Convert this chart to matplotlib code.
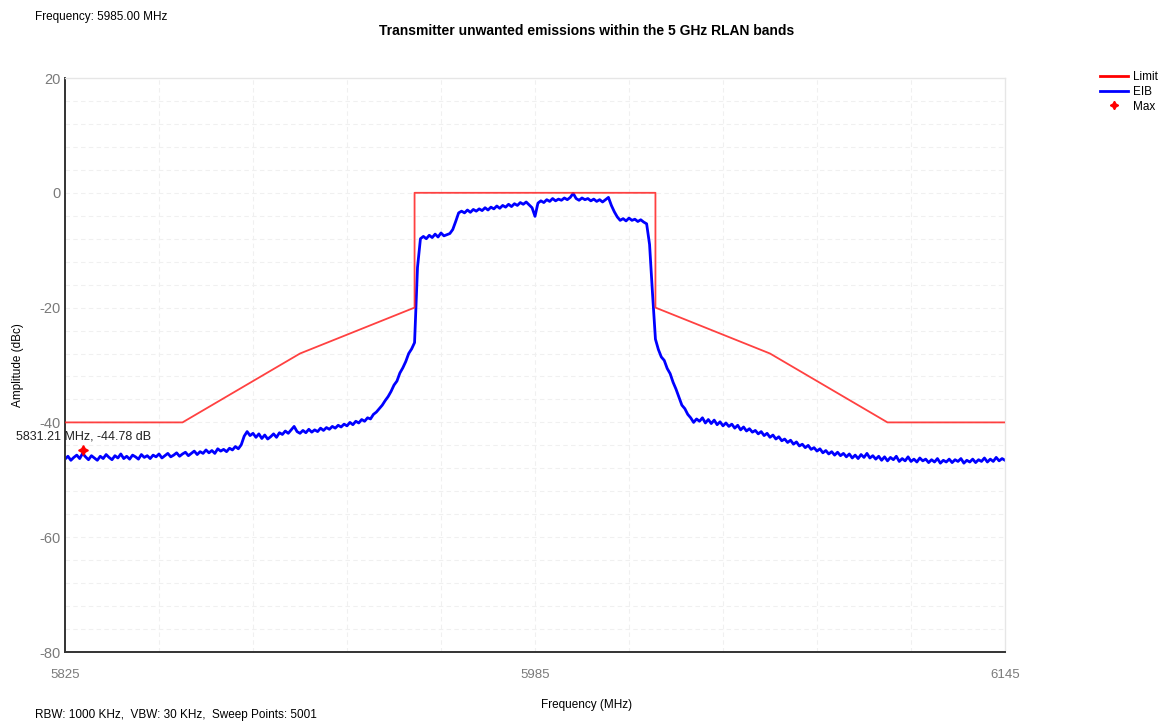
import numpy as np
import matplotlib
matplotlib.use("Agg")
import matplotlib.pyplot as plt
from matplotlib.lines import Line2D

plt.rcParams['font.family'] = ['Liberation Sans', 'DejaVu Sans']
plt.rcParams['axes.unicode_minus'] = False

# ---------------- data ----------------
limit_freq = [5825, 5865, 5905, 5944, 5944, 6026, 6026, 6065, 6105, 6145]
limit_db = [-40, -40, -28, -20, 0, 0, -20, -28, -40, -40]

eib_start, eib_stop = 5825, 6145  # 1 MHz spacing
eib_db = [
    -46.4, -45.9, -46.6, -46.1, -45.7,   # 5825
    -46.3, -45.4, -46.0, -46.5, -45.8,   # 5830
    -46.2, -46.6, -45.9, -46.3, -45.6,   # 5835
    -46.1, -46.5, -45.8, -46.2, -45.5,   # 5840
    -46.3, -45.9, -46.4, -45.7, -46.0,   # 5845
    -46.4, -45.6, -46.1, -45.8, -46.3,   # 5850
    -45.7, -46.0, -45.5, -46.2, -45.8,   # 5855
    -45.4, -46.0, -45.7, -45.3, -45.9,   # 5860
    -45.5, -45.2, -45.8, -45.4, -45.0,   # 5865
    -45.6, -45.1, -45.4, -44.8, -45.3,   # 5870
    -44.9, -45.4, -44.6, -45.0, -44.7,   # 5875
    -45.1, -44.5, -44.8, -44.2, -44.6,   # 5880
    -43.9, -42.4, -41.6, -42.3, -41.9,   # 5885
    -42.6, -42.0, -42.8, -42.2, -42.9,   # 5890
    -42.5, -42.0, -42.6, -41.8, -42.1,   # 5895
    -41.5, -41.9, -41.3, -40.7, -41.6,   # 5900
    -41.9, -41.4, -41.8, -41.2, -41.7,   # 5905
    -41.3, -41.6, -41.0, -41.4, -40.9,   # 5910
    -41.2, -40.7, -41.0, -40.5, -40.8,   # 5915
    -40.3, -40.6, -40.0, -40.4, -39.8,   # 5920
    -40.1, -39.5, -39.8, -39.2, -39.4,   # 5925
    -38.6, -38.2, -37.6, -37.0, -36.2,   # 5930
    -35.5, -34.6, -33.5, -32.8, -31.4,   # 5935
    -30.5, -29.4, -28.0, -27.2, -26.1,   # 5940
    -13.0, -8.0, -7.6, -8.0, -7.4,       # 5945
    -7.8, -7.2, -7.7, -7.0, -7.5,        # 5950
    -7.3, -7.1, -6.4, -5.0, -3.5,        # 5955
    -3.2, -3.5, -3.0, -3.4, -2.9,        # 5960
    -3.2, -2.8, -3.1, -2.6, -3.0,        # 5965
    -2.5, -2.8, -2.3, -2.7, -2.2,        # 5970
    -2.5, -2.0, -2.4, -1.9, -2.2,        # 5975
    -1.7, -2.0, -1.6, -2.1, -2.6,        # 5980
    -4.1, -1.8, -1.4, -1.7, -1.2,        # 5985
    -1.5, -1.0, -1.4, -1.1, -1.3,        # 5990
    -0.9, -1.2, -0.8, -0.1, -1.0,        # 5995
    -1.3, -0.9, -1.2, -1.0, -1.4,        # 6000
    -1.1, -1.5, -1.2, -1.6, -1.2,        # 6005
    -0.8, -2.2, -3.3, -4.2, -4.8,        # 6010
    -4.5, -4.9, -4.4, -4.8, -4.6,        # 6015
    -5.0, -4.7, -5.1, -5.4, -9.0,        # 6020
    -17.5, -25.5, -27.3, -28.6, -29.2,   # 6025
    -30.6, -31.5, -33.0, -34.2, -35.6,   # 6030
    -37.0, -37.6, -38.6, -39.2, -40.0,   # 6035
    -39.4, -39.8, -39.2, -40.1, -39.5,   # 6040
    -40.2, -39.6, -40.4, -39.9, -40.6,   # 6045
    -40.1, -40.7, -40.3, -41.0, -40.5,   # 6050
    -41.3, -40.8, -41.5, -41.1, -41.7,   # 6055
    -41.4, -42.0, -41.6, -42.3, -41.9,   # 6060
    -42.6, -42.2, -42.9, -42.5, -43.2,   # 6065
    -42.9, -43.5, -43.1, -43.8, -43.4,   # 6070
    -44.1, -43.8, -44.4, -44.0, -44.7,   # 6075
    -44.4, -45.0, -44.6, -45.3, -44.9,   # 6080
    -45.5, -45.1, -45.7, -45.2, -45.8,   # 6085
    -45.4, -46.0, -45.5, -46.2, -45.7,   # 6090
    -46.3, -45.6, -46.1, -45.4, -46.2,   # 6095
    -45.8, -46.4, -45.9, -46.6, -46.0,   # 6100
    -46.7, -46.1, -46.5, -45.9, -46.8,   # 6105
    -46.3, -46.7, -46.0, -46.8, -46.4,   # 6110
    -46.9, -46.2, -46.7, -46.4, -47.0,   # 6115
    -46.5, -46.9, -46.3, -47.1, -46.6,   # 6120
    -46.9, -46.4, -47.0, -46.5, -46.8,   # 6125
    -46.3, -47.1, -46.6, -46.9, -46.4,   # 6130
    -47.0, -46.5, -46.8, -46.2, -46.9,   # 6135
    -46.4, -46.8, -46.1, -46.7, -46.3,   # 6140
    -46.6,                               # 6145
]
eib_freq = np.arange(eib_start, eib_stop + 1, 1.0)

max_freq = 5831.21
max_db = -44.78

x_ticks = [5825, 5985, 6145]
y_ticks = [-80, -60, -40, -20, 0, 20]

# ---------------- figure ----------------
W, H = 1162, 722
fig = plt.figure(figsize=(W / 100, H / 100), dpi=100)
ax = fig.add_axes([65 / W, 1 - 652 / H, (1005 - 65) / W, (652 - 78) / H])

ax.set_xlim(5825, 6145)
ax.set_ylim(-80, 20)

# grid
for gx in np.arange(5825 + 32, 6145, 32):
    ax.axvline(gx, color='#f0f0f0', lw=0.8, ls=(0, (4, 3)), zorder=0)
for gy in np.arange(-76, 20, 4):
    ax.axhline(gy, color='#f0f0f0', lw=0.8, ls=(0, (4, 3)), zorder=0)

ax.plot(limit_freq, limit_db, color='#ff2020', lw=1.3, alpha=0.85, zorder=3, label='Limit')
ax.plot(eib_freq, eib_db, color='#0000ff', lw=2.0, zorder=2, label='EIB')
ax.plot([max_freq], [max_db], ls='none', marker=(4, 1, 0), ms=7, color='#ff0000',
        zorder=4, label='Max')
ax.annotate(f"{max_freq:.2f} MHz, {max_db:.2f} dB", (max_freq, max_db),
            xytext=(0, 5), textcoords='offset points', ha='center', va='bottom',
            fontsize=9, color='#222222', annotation_clip=False, zorder=5)

ax.set_xticks(x_ticks)
ax.set_yticks(y_ticks)
ax.tick_params(axis='both', length=0, labelcolor='#7a7a7a')
ax.tick_params(axis='x', pad=12, labelsize=9.5)
ax.tick_params(axis='y', pad=3, labelsize=10.5)

for s in ['left', 'bottom']:
    ax.spines[s].set_color('#333333')
    ax.spines[s].set_linewidth(1.4)
for s in ['top', 'right']:
    ax.spines[s].set_color('#e6e6e6')
    ax.spines[s].set_linewidth(1.0)

fig.text(587 / W, 1 - 31 / H, "Transmitter unwanted emissions within the 5 GHz RLAN bands",
         ha='center', va='center', fontsize=10, fontweight='bold')
fig.text(35 / W, 1 - 17 / H, "Frequency: 5985.00 MHz", ha='left', va='center', fontsize=8.5)
fig.text(35 / W, 1 - 715 / H, "RBW: 1000 KHz,  VBW: 30 KHz,  Sweep Points: 5001",
         ha='left', va='center', fontsize=8.5)
fig.text(587 / W, 1 - 705 / H, "Frequency (MHz)", ha='center', va='center', fontsize=8.5)
fig.text(18 / W, 1 - 365 / H, "Amplitude (dBc)", ha='center', va='center',
         rotation=90, fontsize=8.5)

handles = [Line2D([], [], color='#ff0000', lw=2),
           Line2D([], [], color='#0000ff', lw=2),
           Line2D([], [], ls='none', marker=(4, 1, 0), ms=6, color='#ff0000')]
fig.legend(handles, ['Limit', 'EIB', 'Max'], loc='upper left',
           bbox_to_anchor=(1095 / W, 1 - 66 / H), frameon=False, fontsize=8.5,
           handlelength=2.4, handletextpad=0.4, labelspacing=0.25, borderaxespad=0)

fig.savefig("out.png", dpi=100)
